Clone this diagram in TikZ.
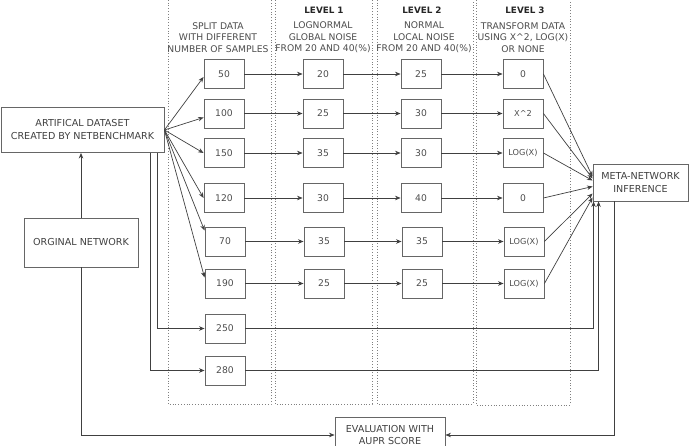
\documentclass[tikz,border=0pt]{standalone}
\usepackage{fontspec}
\setmainfont{DejaVu Sans}
\usetikzlibrary{arrows.meta,calc}
\begin{document}
\begin{tikzpicture}[x=1pt,y=-1pt,
 box/.style={draw=black!60, line width=0.9pt, minimum width=40pt, minimum height=29pt, inner sep=0pt, font=\fontsize{9.2}{10}\selectfont, text=black!70},
 sbox/.style={box, font=\fontsize{8.2}{9}\selectfont},
 bigbox/.style={draw=black!60, line width=0.9pt, inner sep=0pt, align=center, font=\fontsize{9.6}{13}\selectfont, text=black!75},
 colrect/.style={draw=black!50, dotted, line width=0.8pt},
 arr/.style={draw=black!75, line width=0.7pt, -{Stealth[length=5.5pt,width=4.5pt]}},
 ttl/.style={font=\bfseries\fontsize{8.8}{10}\selectfont, text=black!85},
 desc/.style={align=center, font=\fontsize{9.2}{11.6}\selectfont, text=black!70, inner sep=0pt},
]
\useasboundingbox (0,0) rectangle (690,446);
% dotted columns
\draw[colrect] (168,-3) rectangle (271,404);
\draw[colrect] (275,-3) rectangle (372,404);
\draw[colrect] (377,-3) rectangle (473,404);
\draw[colrect] (476,-3) rectangle (570,405);
% titles
\node[ttl] (t1) at (324,10) {LEVEL 1};
\node[ttl] (t2) at (422,10) {LEVEL 2};
\node[ttl] (t3) at (525,10) {LEVEL 3};
\node[desc] (d0) at (218,37.5) {SPLIT DATA\\WITH DIFFERENT\\NUMBER OF SAMPLES};
\node[desc] (d1) at (323,37.5) {LOGNORMAL\\GLOBAL NOISE\\FROM 20 AND 40(\%)};
\node[desc] (d2) at (424,37.5) {NORMAL\\LOCAL NOISE\\FROM 20 AND 40(\%)};
\node[desc] (d3) at (523,37.5) {TRANSFORM DATA\\USING X\textasciicircum 2, LOG(X)\\OR NONE};
% big boxes
\node[bigbox, minimum width=163pt, minimum height=45pt] (artif) at (82.5,130) {ARTIFICAL DATASET\\CREATED BY NETBENCHMARK};
\node[bigbox, minimum width=114pt, minimum height=49pt] (orig) at (81,242.5) {ORGINAL NETWORK};
\node[bigbox, minimum width=95pt, minimum height=37pt] (meta) at (640.5,182.5) {META-NETWORK\\INFERENCE};
\node[bigbox, minimum width=110pt, minimum height=36pt, font=\fontsize{9.6}{12}\selectfont] (eval) at (390,435) {EVALUATION WITH\\AUPR SCORE};
% sample boxes
\node[box] (s1) at (224,74) {50};
\node[box] (s2) at (224,113.5) {100};
\node[box] (s3) at (224,153) {150};
\node[box] (s4) at (224,198) {120};
\node[box] (s5) at (225,241.5) {70};
\node[box] (s6) at (225,283.5) {190};
\node[box] (s7) at (225,328.5) {250};
\node[box] (s8) at (225,370.5) {280};
% level 1
\node[box] (a1) at (323,74) {20};
\node[box] (a2) at (323,113.5) {25};
\node[box] (a3) at (323,153) {35};
\node[box] (a4) at (323,198) {30};
\node[box] (a5) at (324,241.5) {35};
\node[box] (a6) at (324,283.5) {25};
% level 2
\node[box] (b1) at (421,74) {25};
\node[box] (b2) at (421,113.5) {30};
\node[box] (b3) at (421,153) {30};
\node[box] (b4) at (421,198) {40};
\node[box] (b5) at (422,241.5) {35};
\node[box] (b6) at (422,283.5) {25};
% level 3
\node[box] (c1) at (523,74) {0};
\node[sbox] (c2) at (523,113.5) {X\textasciicircum 2};
\node[sbox] (c3) at (523,153) {LOG(X)};
\node[box] (c4) at (523,198) {0};
\node[sbox] (c5) at (524,241.5) {LOG(X)};
\node[sbox] (c6) at (524,283.5) {LOG(X)};
% connectors
\draw[arr] (orig.north) -- (orig.north |- artif.south);
\draw[arr] (orig.south) |- (eval.west);
\draw[arr] ($(meta.south west)+(22,0)$) |- (eval.east);
\draw[arr] (artif.east) -- ($(s1.west)+(0,3)$);
\draw[arr] (artif.east) -- ($(s2.west)+(0,4)$);
\draw[arr] (artif.east) -- (s3.west);
\draw[arr] (artif.east) -- (s4.west);
\draw[arr] (artif.east) -- ($(s5.west)+(0,-11)$);
\draw[arr] (artif.east) -- ($(s6.west)+(0,-6)$);
\draw[arr] ($(artif.south east)+(-7,0)$) |- (s7.west);
\draw[arr] ($(artif.south east)+(-14,0)$) |- (s8.west);
\foreach \i in {1,...,6}{
  \draw[arr] (s\i.east) -- (a\i.west);
  \draw[arr] (a\i.east) -- (b\i.west);
  \draw[arr] (b\i.east) -- (c\i.west);
}
\draw[arr] (c1.east) -- ($(meta.west)+(0,-6)$);
\draw[arr] (c2.east) -- ($(meta.west)+(0,-4)$);
\draw[arr] (c3.east) -- ($(meta.west)+(0,-2)$);
\draw[arr] (c4.east) -- ($(meta.west)+(0,4)$);
\draw[arr] (c5.east) -- ($(meta.west)+(0,11)$);
\draw[arr] (c6.east) -- ($(meta.west)+(0,15)$);
\draw[arr] (s7.east) -| ($(meta.south west)+(1,0)$);
\draw[arr] (s8.east) -| ($(meta.south west)+(6,0)$);
\end{tikzpicture}
\end{document}
